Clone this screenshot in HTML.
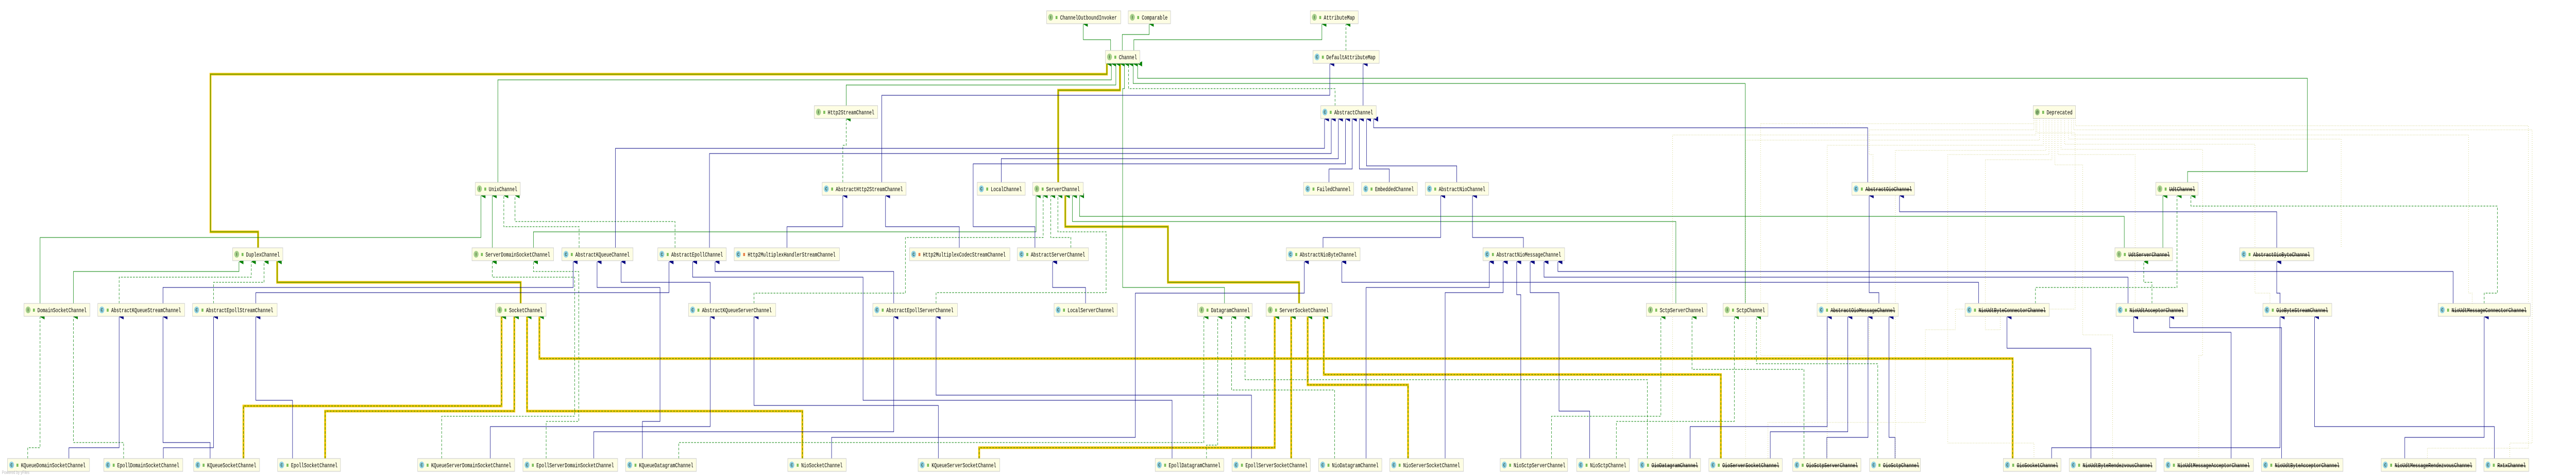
<!DOCTYPE html>
<html><head><meta charset="utf-8"><meta name="viewport" content="width=6877">
<style>
html,body{margin:0;padding:0;background:#fff;overflow:hidden;width:100%;height:922px;}
svg{display:block;width:100vw;height:922px}
.n{fill:#fdfde3;stroke:#c8c8c8;stroke-width:1}
.ci{fill:#a6cf8b}.cc{fill:#8fd0e3}
.il{font:bold 8px "Liberation Sans",sans-serif;fill:#2d4a2d;text-anchor:middle}
.lk{fill:#7cbf5a}
.t{font:11.5px "Liberation Mono",monospace;fill:#000}
.s{text-decoration:line-through}
.g{fill:none;stroke:#008000;stroke-width:1}
.gd{fill:none;stroke:#008000;stroke-width:1;stroke-dasharray:5,3}
.b{fill:none;stroke:#000080;stroke-width:1}
.y{fill:none;stroke:#f5c400;stroke-width:5}
.o{fill:none;stroke:#b8b840;stroke-width:1;stroke-dasharray:1,3}
</style></head><body>
<svg viewBox="0 0 6877 922" preserveAspectRatio="none" xmlns="http://www.w3.org/2000/svg">
<defs>
<marker id="ag" markerUnits="userSpaceOnUse" markerWidth="10" markerHeight="12" refX="5" refY="0" orient="auto-start-reverse" viewBox="0 0 10 12"><path d="M0,12 L5,0 L10,12 Z" fill="#008000"/></marker>
<marker id="ab" markerUnits="userSpaceOnUse" markerWidth="10" markerHeight="12" refX="5" refY="0" orient="auto-start-reverse" viewBox="0 0 10 12"><path d="M0,12 L5,0 L10,12 Z" fill="#000080"/></marker>
</defs>

<g class="o">
<polyline points="5435,230 5435,262 4465,262 4465,890"/>
<polyline points="5445,230 5445,272 4660,272 4660,890"/>
<polyline points="5455,230 5455,282 4878,282 4878,890"/>
<polyline points="5462,230 5462,292 5060,292 5060,890"/>
<polyline points="5470,230 5470,300 5200,300 5200,860 5430,860 5430,890"/>
<polyline points="5478,230 5478,310 5300,310 5300,640 5340,640 5340,589"/>
<polyline points="5486,230 5486,320 5560,320 5560,650 5640,650 5640,890"/>
<polyline points="5494,230 5494,300 5700,300 5700,589"/>
<polyline points="5502,230 5502,290 5880,290 5880,690 5870,690 5870,890"/>
<polyline points="5512,230 5512,280 6020,280 6020,569 6060,569 6060,589"/>
<polyline points="5522,230 5522,270 6250,270 6250,481"/>
<polyline points="5530,230 5530,262 6590,262 6590,569 6600,569 6600,589"/>
<polyline points="5536,230 5536,252 6760,252 6760,860 6700,860 6700,890"/>
<polyline points="5541,230 5541,244 6750,244 6750,870 6480,870 6480,890"/>
<polyline points="5430,230 5430,252 4990,252 4990,300 5000,300 5000,354"/>
<polyline points="5430,230 5430,240 4700,240 4700,690 4990,690 4990,589"/>
<polyline points="5438,230 5438,258 5540,258 5540,600 5220,600 5220,640 5140,640 5140,820 4720,820 4720,890"/>
</g>

<g class="y">
<polyline points="689,481 689,450 562,450 562,144 2955,144 2955,123"/>
<polyline points="2825,354 2825,175 2990,175 2990,123"/>
<polyline points="1390,589 1390,548 740,548 740,507"/>
<polyline points="650,890 650,788 1339,788 1339,614"/>
<polyline points="868,890 868,798 1373,798 1373,614"/>
<polyline points="2142,890 2142,798 1407,798 1407,614"/>
<polyline points="5373,890 5373,696 1440,696 1440,614"/>
<polyline points="3468,589 3468,548 3118,548 3118,440 2844,440 2844,379"/>
<polyline points="2614,890 2614,869 3403,869 3403,614"/>
<polyline points="3447,890 3447,614"/>
<polyline points="3759,890 3759,747 3491,747 3491,614"/>
<polyline points="4594,890 4594,727 3534,727 3534,614"/>
</g>

<g class="g" style="marker-end:url(#ag)">
<polyline points="2965,98 2965,77 2892,77 2892,47"/>
<polyline points="2996,98 2996,67 3068,67 3068,47"/>
<polyline points="3027,98 3027,77 3529,77 3529,47"/>
<polyline points="1329,354 1329,155 2967,155 2967,124"/>
<polyline points="2259,205 2259,165 2979,165 2979,124"/>
<polyline points="3269,589 3269,558 2997,558 2997,172 3002,172 3002,124"/>
<polyline points="4659,589 4659,162 3025,162 3025,124"/>
<polyline points="5840,354 5840,333 6160,333 6160,152 3037,152 3037,124"/>
<polyline points="689,481 689,450 562,450 562,144 2955,144 2955,124"/>
<polyline points="2825,354 2825,175 2990,175 2990,124"/>
<polyline points="107,589 107,461 1284,461 1284,380"/>
<polyline points="196,589 196,527 638,527 638,508"/>
<polyline points="1390,589 1390,548 740,548 740,508"/>
<polyline points="1314,481 1314,380"/>
<polyline points="1424,481 1424,450 2766,450 2766,380"/>
<polyline points="3468,589 3468,548 3118,548 3118,440 2844,440 2844,380"/>
<polyline points="4474,589 4474,430 2863,430 2863,380"/>
<polyline points="5671,481 5671,420 2882,420 2882,380"/>
<polyline points="5774,481 5774,380"/>
</g>
<g class="gd" style="marker-end:url(#ag)">
<polyline points="3593,98 3593,47"/>
<polyline points="3564,205 3564,172 3013,172 3013,124"/>
<polyline points="318,589 318,538 671,538 671,508"/>
<polyline points="570,589 570,548 705,548 705,508"/>
<polyline points="1546,481 1546,440 1345,440 1345,380"/>
<polyline points="1802,481 1802,430 1375,430 1375,380"/>
<polyline points="1179,890 1179,808 1534,808 1534,538 1314,538 1314,508"/>
<polyline points="1458,890 1458,818 1545,818 1545,527 1424,527 1424,508"/>
<polyline points="74,890 74,869 107,869 107,615"/>
<polyline points="330,890 330,859 196,859 196,615"/>
<polyline points="650,890 650,788 1339,788 1339,615"/>
<polyline points="868,890 868,798 1373,798 1373,615"/>
<polyline points="2142,890 2142,798 1407,798 1407,615"/>
<polyline points="5373,890 5373,696 1440,696 1440,615"/>
<polyline points="2614,890 2614,869 3403,869 3403,615"/>
<polyline points="3447,890 3447,615"/>
<polyline points="3759,890 3759,747 3491,747 3491,615"/>
<polyline points="4594,890 4594,727 3534,727 3534,615"/>
<polyline points="2013,589 2013,569 2417,569 2417,461 2785,461 2785,380"/>
<polyline points="2859,481 2859,461 2805,461 2805,380"/>
<polyline points="2499,589 2499,568 2953,568 2953,450 2824,450 2824,380"/>
<polyline points="2250,354 2250,282 2259,282 2259,231"/>
<polyline points="5434,589 5434,558 5812,558 5812,380"/>
<polyline points="6632,589 6632,569 6667,569 6667,400 5849,400 5849,380"/>
<polyline points="5745,589 5745,548 5723,548 5723,508"/>
<polyline points="1812,890 1812,859 3214,859 3214,615"/>
<polyline points="3221,890 3221,864 3251,864 3251,615"/>
<polyline points="3563,890 3563,757 3288,757 3288,615"/>
<polyline points="4398,890 4398,737 3324,737 3324,615"/>
<polyline points="4142,890 4142,808 4434,808 4434,615"/>
<polyline points="4816,890 4816,717 4517,717 4517,615"/>
<polyline points="5013,890 5013,706 4689,706 4689,615"/>
<polyline points="4315,890 4315,818 4630,818 4630,615"/>
</g>
<g class="b" style="marker-end:url(#ab)">
<polyline points="435,589 435,558 1530,558 1530,508"/>
<polyline points="683,589 683,568 1786,568 1786,508"/>
<polyline points="184,890 184,869 318,869 318,615"/>
<polyline points="436,890 436,869 570,869 570,615"/>
<polyline points="561,890 561,859 435,859 435,615"/>
<polyline points="781,890 781,777 683,777 683,615"/>
<polyline points="1309,890 1309,828 1896,828 1896,615"/>
<polyline points="1585,890 1585,838 2386,838 2386,615"/>
<polyline points="1896,589 1896,548 1658,548 1658,508"/>
<polyline points="2386,589 2386,527 1909,527 1909,508"/>
<polyline points="2505,890 2505,787 2013,787 2013,615"/>
<polyline points="3341,890 3341,767 2499,767 2499,615"/>
<polyline points="3129,890 3129,777 2304,777 2304,538 1849,538 1849,508"/>
<polyline points="1715,890 1715,818 1762,818 1762,558 1594,558 1594,508"/>
<polyline points="2898,589 2898,558 2810,558 2810,508"/>
<polyline points="1643,481 1643,288 3536,288 3536,231"/>
<polyline points="1894,481 1894,298 3554,298 3554,231"/>
<polyline points="2673,354 2673,308 3573,308 3573,231"/>
<polyline points="2763,481 2763,440 2598,440 2598,318 3592,318 3592,231"/>
<polyline points="2354,354 2354,185 3550,185 3550,124"/>
<polyline points="3639,205 3639,124"/>
<polyline points="3548,354 3548,328 3610,328 3610,231"/>
<polyline points="3709,354 3709,328 3629,328 3629,231"/>
<polyline points="3889,354 3889,322 3648,322 3648,231"/>
<polyline points="4986,354 4986,248 3667,248 3667,231"/>
<polyline points="2101,481 2101,440 2250,440 2250,380"/>
<polyline points="2561,481 2561,440 2364,440 2364,380"/>
<polyline points="3532,481 3532,461 3846,461 3846,380"/>
<polyline points="4067,481 4067,461 3931,461 3931,380"/>
<polyline points="2220,890 2220,849 3031,849 3031,569 3482,569 3482,508"/>
<polyline points="5282,589 5282,548 3582,548 3582,508"/>
<polyline points="3647,890 3647,558 3976,558 3976,508"/>
<polyline points="3858,890 3858,568 4013,568 4013,508"/>
<polyline points="4060,890 4060,572 4049,572 4049,508"/>
<polyline points="4244,890 4244,798 4162,798 4162,568 4085,568 4085,508"/>
<polyline points="5681,589 5681,538 4122,538 4122,508"/>
<polyline points="6549,589 6549,527 4159,527 4159,508"/>
<polyline points="5016,589 5016,568 4990,568 4990,380"/>
<polyline points="6078,481 6078,411 5071,411 5071,380"/>
<polyline points="6087,589 6087,569 6078,569 6078,508"/>
<polyline points="5477,890 5477,869 6087,869 6087,615"/>
<polyline points="6659,890 6659,828 6179,828 6179,615"/>
<polyline points="5582,890 5582,676 5358,676 5358,615"/>
<polyline points="5956,890 5956,645 5696,645 5696,615"/>
<polyline points="6091,890 6091,636 5792,636 5792,615"/>
<polyline points="6420,890 6420,849 6632,849 6632,615"/>
<polyline points="4512,890 4512,828 4878,828 4878,615"/>
<polyline points="4726,890 4726,838 4933,838 4933,615"/>
<polyline points="4877,890 4877,849 4987,849 4987,615"/>
<polyline points="5059,890 5059,849 5043,849 5043,615"/>
</g>

<g>
<g transform="translate(2794,21)"><rect class="n" width="198" height="25"/><circle class="ci" cx="11" cy="12.5" r="6.5"/><text class="il" x="11" y="15.5">I</text><rect class="lk" x="24" y="10" width="5" height="6"/><text class="t" x="36" y="17">ChannelOutboundInvoker</text></g>
<g transform="translate(3012,21)"><rect class="n" width="113" height="25"/><circle class="ci" cx="11" cy="12.5" r="6.5"/><text class="il" x="11" y="15.5">I</text><rect class="lk" x="24" y="10" width="5" height="6"/><text class="t" x="36" y="17">Comparable</text></g>
<g transform="translate(3498,21)"><rect class="n" width="128" height="25"/><circle class="ci" cx="11" cy="12.5" r="6.5"/><text class="il" x="11" y="15.5">I</text><rect class="lk" x="24" y="10" width="5" height="6"/><text class="t" x="36" y="17">AttributeMap</text></g>

<g transform="translate(2951,98)"><rect class="n" width="92" height="25"/><circle class="ci" cx="11" cy="12.5" r="6.5"/><text class="il" x="11" y="15.5">I</text><rect class="lk" x="24" y="10" width="5" height="6"/><text class="t" x="36" y="17">Channel</text></g>
<g transform="translate(3505,98)"><rect class="n" width="177" height="25"/><circle class="cc" cx="11" cy="12.5" r="6.5"/><text class="il" x="11" y="15.5">C</text><rect class="lk" x="24" y="10" width="5" height="6"/><text class="t" x="36" y="17">DefaultAttributeMap</text></g>

<g transform="translate(2174,205)"><rect class="n" width="169" height="25"/><circle class="ci" cx="11" cy="12.5" r="6.5"/><text class="il" x="11" y="15.5">I</text><rect class="lk" x="24" y="10" width="5" height="6"/><text class="t" x="36" y="17">Http2StreamChannel</text></g>
<g transform="translate(3526,205)"><rect class="n" width="148" height="25"/><circle class="cc" cx="11" cy="12.5" r="6.5"/><text class="il" x="11" y="15.5">C</text><rect class="lk" x="24" y="10" width="5" height="6"/><text class="t" x="36" y="17">AbstractChannel</text></g>
<g transform="translate(5428,205)"><rect class="n" width="113" height="25"/><circle class="ci" cx="11" cy="12.5" r="6.5"/><text class="il" x="11" y="15.5">@</text><rect class="lk" x="24" y="10" width="5" height="6"/><text class="t" x="36" y="17">Deprecated</text></g>

<g transform="translate(1269,354)"><rect class="n" width="120" height="25"/><circle class="ci" cx="11" cy="12.5" r="6.5"/><text class="il" x="11" y="15.5">I</text><rect class="lk" x="24" y="10" width="5" height="6"/><text class="t" x="36" y="17">UnixChannel</text></g>
<g transform="translate(2195,354)"><rect class="n" width="224" height="25"/><circle class="cc" cx="11" cy="12.5" r="6.5"/><text class="il" x="11" y="15.5">C</text><rect class="lk" x="24" y="10" width="5" height="6"/><text class="t" x="36" y="17">AbstractHttp2StreamChannel</text></g>
<g transform="translate(2609,354)"><rect class="n" width="128" height="25"/><circle class="cc" cx="11" cy="12.5" r="6.5"/><text class="il" x="11" y="15.5">C</text><rect class="lk" x="24" y="10" width="5" height="6"/><text class="t" x="36" y="17">LocalChannel</text></g>
<g transform="translate(2757,354)"><rect class="n" width="135" height="25"/><circle class="ci" cx="11" cy="12.5" r="6.5"/><text class="il" x="11" y="15.5">I</text><rect class="lk" x="24" y="10" width="5" height="6"/><text class="t" x="36" y="17">ServerChannel</text></g>
<g transform="translate(3480,354)"><rect class="n" width="134" height="25"/><circle class="cc" cx="11" cy="12.5" r="6.5"/><text class="il" x="11" y="15.5">C</text><rect class="lk" x="24" y="10" width="5" height="6"/><text class="t" x="36" y="17">FailedChannel</text></g>
<g transform="translate(3635,354)"><rect class="n" width="149" height="25"/><circle class="cc" cx="11" cy="12.5" r="6.5"/><text class="il" x="11" y="15.5">C</text><rect class="lk" x="24" y="10" width="5" height="6"/><text class="t" x="36" y="17">EmbeddedChannel</text></g>
<g transform="translate(3805,354)"><rect class="n" width="169" height="25"/><circle class="cc" cx="11" cy="12.5" r="6.5"/><text class="il" x="11" y="15.5">C</text><rect class="lk" x="24" y="10" width="5" height="6"/><text class="t" x="36" y="17">AbstractNioChannel</text></g>
<g transform="translate(4944,354)"><rect class="n" width="167" height="25"/><circle class="cc" cx="11" cy="12.5" r="6.5"/><text class="il" x="11" y="15.5">C</text><rect class="lk" x="24" y="10" width="5" height="6"/><text class="t s" x="36" y="17">AbstractOioChannel</text></g>
<g transform="translate(5755,354)"><rect class="n" width="113" height="25"/><circle class="ci" cx="11" cy="12.5" r="6.5"/><text class="il" x="11" y="15.5">I</text><rect class="lk" x="24" y="10" width="5" height="6"/><text class="t s" x="36" y="17">UdtChannel</text></g>

<g transform="translate(621,481)"><rect class="n" width="134" height="25"/><circle class="ci" cx="11" cy="12.5" r="6.5"/><text class="il" x="11" y="15.5">I</text><rect class="lk" x="24" y="10" width="5" height="6"/><text class="t" x="36" y="17">DuplexChannel</text></g>
<g transform="translate(1260,481)"><rect class="n" width="218" height="25"/><circle class="ci" cx="11" cy="12.5" r="6.5"/><text class="il" x="11" y="15.5">I</text><rect class="lk" x="24" y="10" width="5" height="6"/><text class="t" x="36" y="17">ServerDomainSocketChannel</text></g>
<g transform="translate(1500,481)"><rect class="n" width="190" height="25"/><circle class="cc" cx="11" cy="12.5" r="6.5"/><text class="il" x="11" y="15.5">C</text><rect class="lk" x="24" y="10" width="5" height="6"/><text class="t" x="36" y="17">AbstractKQueueChannel</text></g>
<g transform="translate(1756,481)"><rect class="n" width="183" height="25"/><circle class="cc" cx="11" cy="12.5" r="6.5"/><text class="il" x="11" y="15.5">C</text><rect class="lk" x="24" y="10" width="5" height="6"/><text class="t" x="36" y="17">AbstractEpollChannel</text></g>
<g transform="translate(1960,481)"><rect class="n" width="281" height="25"/><circle class="cc" cx="11" cy="12.5" r="6.5"/><text class="il" x="11" y="15.5">C</text><rect x="24" y="10" width="5" height="6" fill="#e8804a"/><text class="t" x="36" y="17">Http2MultiplexHandlerStreamChannel</text></g>
<g transform="translate(2428,481)"><rect class="n" width="268" height="25"/><circle class="cc" cx="11" cy="12.5" r="6.5"/><text class="il" x="11" y="15.5">C</text><rect x="24" y="10" width="5" height="6" fill="#e8804a"/><text class="t" x="36" y="17">Http2MultiplexCodecStreamChannel</text></g>
<g transform="translate(2716,481)"><rect class="n" width="190" height="25"/><circle class="cc" cx="11" cy="12.5" r="6.5"/><text class="il" x="11" y="15.5">C</text><rect class="lk" x="24" y="10" width="5" height="6"/><text class="t" x="36" y="17">AbstractServerChannel</text></g>
<g transform="translate(3434,481)"><rect class="n" width="197" height="25"/><circle class="cc" cx="11" cy="12.5" r="6.5"/><text class="il" x="11" y="15.5">C</text><rect class="lk" x="24" y="10" width="5" height="6"/><text class="t" x="36" y="17">AbstractNioByteChannel</text></g>
<g transform="translate(3959,481)"><rect class="n" width="218" height="25"/><circle class="cc" cx="11" cy="12.5" r="6.5"/><text class="il" x="11" y="15.5">C</text><rect class="lk" x="24" y="10" width="5" height="6"/><text class="t" x="36" y="17">AbstractNioMessageChannel</text></g>
<g transform="translate(5646,481)"><rect class="n" width="154" height="25"/><circle class="ci" cx="11" cy="12.5" r="6.5"/><text class="il" x="11" y="15.5">I</text><rect class="lk" x="24" y="10" width="5" height="6"/><text class="t s" x="36" y="17">UdtServerChannel</text></g>
<g transform="translate(5979,481)"><rect class="n" width="198" height="25"/><circle class="cc" cx="11" cy="12.5" r="6.5"/><text class="il" x="11" y="15.5">C</text><rect class="lk" x="24" y="10" width="5" height="6"/><text class="t s" x="36" y="17">AbstractOioByteChannel</text></g>

<g transform="translate(64,589)"><rect class="n" width="176" height="25"/><circle class="ci" cx="11" cy="12.5" r="6.5"/><text class="il" x="11" y="15.5">I</text><rect class="lk" x="24" y="10" width="5" height="6"/><text class="t" x="36" y="17">DomainSocketChannel</text></g>
<g transform="translate(261,589)"><rect class="n" width="232" height="25"/><circle class="cc" cx="11" cy="12.5" r="6.5"/><text class="il" x="11" y="15.5">C</text><rect class="lk" x="24" y="10" width="5" height="6"/><text class="t" x="36" y="17">AbstractKQueueStreamChannel</text></g>
<g transform="translate(514,589)"><rect class="n" width="226" height="25"/><circle class="cc" cx="11" cy="12.5" r="6.5"/><text class="il" x="11" y="15.5">C</text><rect class="lk" x="24" y="10" width="5" height="6"/><text class="t" x="36" y="17">AbstractEpollStreamChannel</text></g>
<g transform="translate(1323,589)"><rect class="n" width="135" height="25"/><circle class="ci" cx="11" cy="12.5" r="6.5"/><text class="il" x="11" y="15.5">I</text><rect class="lk" x="24" y="10" width="5" height="6"/><text class="t" x="36" y="17">SocketChannel</text></g>
<g transform="translate(1838,589)"><rect class="n" width="233" height="25"/><circle class="cc" cx="11" cy="12.5" r="6.5"/><text class="il" x="11" y="15.5">C</text><rect class="lk" x="24" y="10" width="5" height="6"/><text class="t" x="36" y="17">AbstractKQueueServerChannel</text></g>
<g transform="translate(2330,589)"><rect class="n" width="226" height="25"/><circle class="cc" cx="11" cy="12.5" r="6.5"/><text class="il" x="11" y="15.5">C</text><rect class="lk" x="24" y="10" width="5" height="6"/><text class="t" x="36" y="17">AbstractEpollServerChannel</text></g>
<g transform="translate(2814,589)"><rect class="n" width="169" height="25"/><circle class="cc" cx="11" cy="12.5" r="6.5"/><text class="il" x="11" y="15.5">C</text><rect class="lk" x="24" y="10" width="5" height="6"/><text class="t" x="36" y="17">LocalServerChannel</text></g>
<g transform="translate(3197,589)"><rect class="n" width="146" height="25"/><circle class="ci" cx="11" cy="12.5" r="6.5"/><text class="il" x="11" y="15.5">I</text><rect class="lk" x="24" y="10" width="5" height="6"/><text class="t" x="36" y="17">DatagramChannel</text></g>
<g transform="translate(3380,589)"><rect class="n" width="176" height="25"/><circle class="ci" cx="11" cy="12.5" r="6.5"/><text class="il" x="11" y="15.5">I</text><rect class="lk" x="24" y="10" width="5" height="6"/><text class="t" x="36" y="17">ServerSocketChannel</text></g>
<g transform="translate(4395,589)"><rect class="n" width="162" height="25"/><circle class="ci" cx="11" cy="12.5" r="6.5"/><text class="il" x="11" y="15.5">I</text><rect class="lk" x="24" y="10" width="5" height="6"/><text class="t" x="36" y="17">SctpServerChannel</text></g>
<g transform="translate(4600,589)"><rect class="n" width="120" height="25"/><circle class="ci" cx="11" cy="12.5" r="6.5"/><text class="il" x="11" y="15.5">I</text><rect class="lk" x="24" y="10" width="5" height="6"/><text class="t" x="36" y="17">SctpChannel</text></g>
<g transform="translate(4851,589)"><rect class="n" width="217" height="25"/><circle class="cc" cx="11" cy="12.5" r="6.5"/><text class="il" x="11" y="15.5">C</text><rect class="lk" x="24" y="10" width="5" height="6"/><text class="t s" x="36" y="17">AbstractOioMessageChannel</text></g>
<g transform="translate(5246,589)"><rect class="n" width="225" height="25"/><circle class="cc" cx="11" cy="12.5" r="6.5"/><text class="il" x="11" y="15.5">C</text><rect class="lk" x="24" y="10" width="5" height="6"/><text class="t s" x="36" y="17">NioUdtByteConnectorChannel</text></g>
<g transform="translate(5649,589)"><rect class="n" width="191" height="25"/><circle class="cc" cx="11" cy="12.5" r="6.5"/><text class="il" x="11" y="15.5">C</text><rect class="lk" x="24" y="10" width="5" height="6"/><text class="t s" x="36" y="17">NioUdtAcceptorChannel</text></g>
<g transform="translate(6041,589)"><rect class="n" width="184" height="25"/><circle class="cc" cx="11" cy="12.5" r="6.5"/><text class="il" x="11" y="15.5">C</text><rect class="lk" x="24" y="10" width="5" height="6"/><text class="t s" x="36" y="17">OioByteStreamChannel</text></g>
<g transform="translate(6509,589)"><rect class="n" width="246" height="25"/><circle class="cc" cx="11" cy="12.5" r="6.5"/><text class="il" x="11" y="15.5">C</text><rect class="lk" x="24" y="10" width="5" height="6"/><text class="t s" x="36" y="17">NioUdtMessageConnectorChannel</text></g>

<g transform="translate(20,890)"><rect class="n" width="219" height="25"/><circle class="cc" cx="11" cy="12.5" r="6.5"/><text class="il" x="11" y="15.5">C</text><rect class="lk" x="24" y="10" width="5" height="6"/><text class="t" x="36" y="17">KQueueDomainSocketChannel</text></g>
<g transform="translate(277,890)"><rect class="n" width="211" height="25"/><circle class="cc" cx="11" cy="12.5" r="6.5"/><text class="il" x="11" y="15.5">C</text><rect class="lk" x="24" y="10" width="5" height="6"/><text class="t" x="36" y="17">EpollDomainSocketChannel</text></g>
<g transform="translate(517,890)"><rect class="n" width="176" height="25"/><circle class="cc" cx="11" cy="12.5" r="6.5"/><text class="il" x="11" y="15.5">C</text><rect class="lk" x="24" y="10" width="5" height="6"/><text class="t" x="36" y="17">KQueueSocketChannel</text></g>
<g transform="translate(741,890)"><rect class="n" width="168" height="25"/><circle class="cc" cx="11" cy="12.5" r="6.5"/><text class="il" x="11" y="15.5">C</text><rect class="lk" x="24" y="10" width="5" height="6"/><text class="t" x="36" y="17">EpollSocketChannel</text></g>
<g transform="translate(1115,890)"><rect class="n" width="259" height="25"/><circle class="cc" cx="11" cy="12.5" r="6.5"/><text class="il" x="11" y="15.5">C</text><rect class="lk" x="24" y="10" width="5" height="6"/><text class="t" x="36" y="17">KQueueServerDomainSocketChannel</text></g>
<g transform="translate(1396,890)"><rect class="n" width="253" height="25"/><circle class="cc" cx="11" cy="12.5" r="6.5"/><text class="il" x="11" y="15.5">C</text><rect class="lk" x="24" y="10" width="5" height="6"/><text class="t" x="36" y="17">EpollServerDomainSocketChannel</text></g>
<g transform="translate(1670,890)"><rect class="n" width="189" height="25"/><circle class="cc" cx="11" cy="12.5" r="6.5"/><text class="il" x="11" y="15.5">C</text><rect class="lk" x="24" y="10" width="5" height="6"/><text class="t" x="36" y="17">KQueueDatagramChannel</text></g>
<g transform="translate(2103,890)"><rect class="n" width="156" height="25"/><circle class="cc" cx="11" cy="12.5" r="6.5"/><text class="il" x="11" y="15.5">C</text><rect class="lk" x="24" y="10" width="5" height="6"/><text class="t" x="36" y="17">NioSocketChannel</text></g>
<g transform="translate(2451,890)"><rect class="n" width="218" height="25"/><circle class="cc" cx="11" cy="12.5" r="6.5"/><text class="il" x="11" y="15.5">C</text><rect class="lk" x="24" y="10" width="5" height="6"/><text class="t" x="36" y="17">KQueueServerSocketChannel</text></g>
<g transform="translate(3084,890)"><rect class="n" width="183" height="25"/><circle class="cc" cx="11" cy="12.5" r="6.5"/><text class="il" x="11" y="15.5">C</text><rect class="lk" x="24" y="10" width="5" height="6"/><text class="t" x="36" y="17">EpollDatagramChannel</text></g>
<g transform="translate(3289,890)"><rect class="n" width="209" height="25"/><circle class="cc" cx="11" cy="12.5" r="6.5"/><text class="il" x="11" y="15.5">C</text><rect class="lk" x="24" y="10" width="5" height="6"/><text class="t" x="36" y="17">EpollServerSocketChannel</text></g>
<g transform="translate(3520,890)"><rect class="n" width="169" height="25"/><circle class="cc" cx="11" cy="12.5" r="6.5"/><text class="il" x="11" y="15.5">C</text><rect class="lk" x="24" y="10" width="5" height="6"/><text class="t" x="36" y="17">NioDatagramChannel</text></g>
<g transform="translate(3710,890)"><rect class="n" width="197" height="25"/><circle class="cc" cx="11" cy="12.5" r="6.5"/><text class="il" x="11" y="15.5">C</text><rect class="lk" x="24" y="10" width="5" height="6"/><text class="t" x="36" y="17">NioServerSocketChannel</text></g>
<g transform="translate(4005,890)"><rect class="n" width="180" height="25"/><circle class="cc" cx="11" cy="12.5" r="6.5"/><text class="il" x="11" y="15.5">C</text><rect class="lk" x="24" y="10" width="5" height="6"/><text class="t" x="36" y="17">NioSctpServerChannel</text></g>
<g transform="translate(4209,890)"><rect class="n" width="141" height="25"/><circle class="cc" cx="11" cy="12.5" r="6.5"/><text class="il" x="11" y="15.5">C</text><rect class="lk" x="24" y="10" width="5" height="6"/><text class="t" x="36" y="17">NioSctpChannel</text></g>
<g transform="translate(4373,890)"><rect class="n" width="167" height="25"/><circle class="cc" cx="11" cy="12.5" r="6.5"/><text class="il" x="11" y="15.5">C</text><rect class="lk" x="24" y="10" width="5" height="6"/><text class="t s" x="36" y="17">OioDatagramChannel</text></g>
<g transform="translate(4562,890)"><rect class="n" width="196" height="25"/><circle class="cc" cx="11" cy="12.5" r="6.5"/><text class="il" x="11" y="15.5">C</text><rect class="lk" x="24" y="10" width="5" height="6"/><text class="t s" x="36" y="17">OioServerSocketChannel</text></g>
<g transform="translate(4786,890)"><rect class="n" width="182" height="25"/><circle class="cc" cx="11" cy="12.5" r="6.5"/><text class="il" x="11" y="15.5">C</text><rect class="lk" x="24" y="10" width="5" height="6"/><text class="t s" x="36" y="17">OioSctpServerChannel</text></g>
<g transform="translate(4991,890)"><rect class="n" width="136" height="25"/><circle class="cc" cx="11" cy="12.5" r="6.5"/><text class="il" x="11" y="15.5">C</text><rect class="lk" x="24" y="10" width="5" height="6"/><text class="t s" x="36" y="17">OioSctpChannel</text></g>
<g transform="translate(5348,890)"><rect class="n" width="154" height="25"/><circle class="cc" cx="11" cy="12.5" r="6.5"/><text class="il" x="11" y="15.5">C</text><rect class="lk" x="24" y="10" width="5" height="6"/><text class="t s" x="36" y="17">OioSocketChannel</text></g>
<g transform="translate(5524,890)"><rect class="n" width="232" height="25"/><circle class="cc" cx="11" cy="12.5" r="6.5"/><text class="il" x="11" y="15.5">C</text><rect class="lk" x="24" y="10" width="5" height="6"/><text class="t s" x="36" y="17">NioUdtByteRendezvousChannel</text></g>
<g transform="translate(5777,890)"><rect class="n" width="239" height="25"/><circle class="cc" cx="11" cy="12.5" r="6.5"/><text class="il" x="11" y="15.5">C</text><rect class="lk" x="24" y="10" width="5" height="6"/><text class="t s" x="36" y="17">NioUdtMessageAcceptorChannel</text></g>
<g transform="translate(6037,890)"><rect class="n" width="218" height="25"/><circle class="cc" cx="11" cy="12.5" r="6.5"/><text class="il" x="11" y="15.5">C</text><rect class="lk" x="24" y="10" width="5" height="6"/><text class="t s" x="36" y="17">NioUdtByteAcceptorChannel</text></g>
<g transform="translate(6357,890)"><rect class="n" width="253" height="25"/><circle class="cc" cx="11" cy="12.5" r="6.5"/><text class="il" x="11" y="15.5">C</text><rect class="lk" x="24" y="10" width="5" height="6"/><text class="t s" x="36" y="17">NioUdtMessageRendezvousChannel</text></g>
<g transform="translate(6631,890)"><rect class="n" width="120" height="25"/><circle class="cc" cx="11" cy="12.5" r="6.5"/><text class="il" x="11" y="15.5">C</text><rect class="lk" x="24" y="10" width="5" height="6"/><text class="t s" x="36" y="17">RxtxChannel</text></g>
</g>
<text x="5" y="920" style="font:9px 'Liberation Sans',sans-serif;fill:#bbb">Powered by yFiles</text>
</svg>
</body></html>
